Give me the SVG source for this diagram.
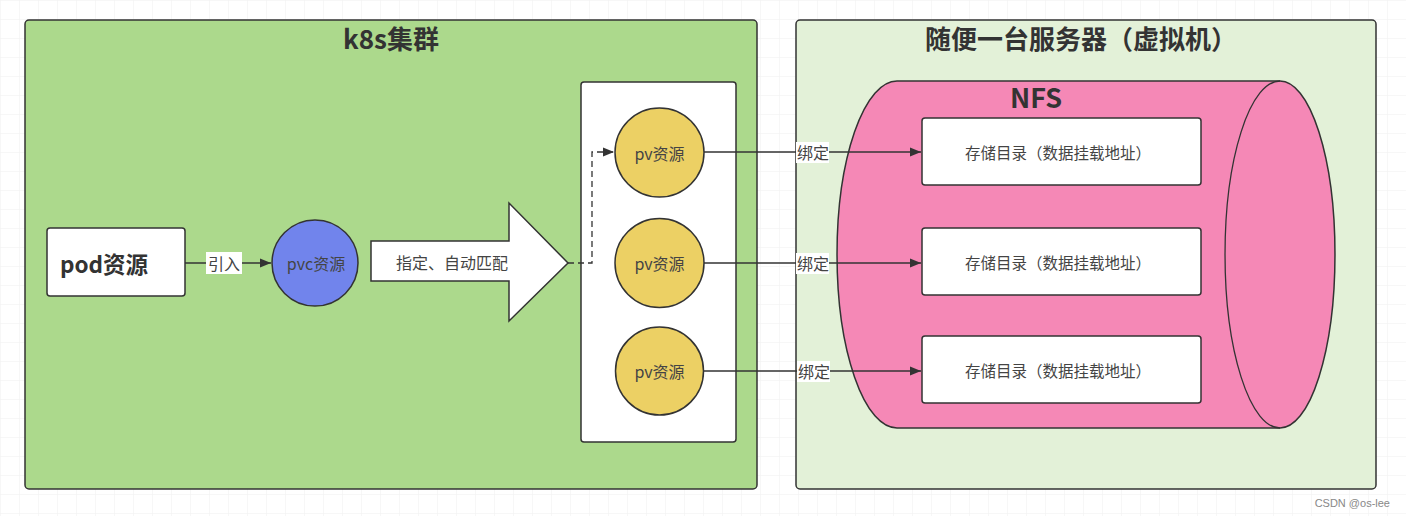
<svg xmlns="http://www.w3.org/2000/svg" width="1406" height="516" viewBox="0 0 1406 516">
<style>
  .zh { font-family: "Noto Sans CJK SC", "Liberation Sans", sans-serif; }
  .title { font-size: 26px; font-weight: bold; fill: #333333; text-anchor: middle; }
  .lbl { font-size: 16px; fill: #444444; text-anchor: middle; dominant-baseline: central; }
  .dir { font-size: 15.5px; fill: #444444; text-anchor: middle; dominant-baseline: central; }
  .edge { stroke: #333333; stroke-width: 1.3; fill: none; }
  .node { stroke: #333333; stroke-width: 1.5; }
  .elab { font-size: 16px; fill: #444444; text-anchor: middle; dominant-baseline: central; }
</style>
<defs>
  <pattern id="grid" width="19" height="19" patternUnits="userSpaceOnUse">
    <path d="M19 0 L0 0 0 19" fill="none" stroke="#efefef" stroke-width="1"/>
  </pattern>
  <marker id="arr" viewBox="0 0 10 10" refX="10" refY="5" markerWidth="11" markerHeight="11" markerUnits="userSpaceOnUse" orient="auto">
    <path d="M0,1 L10,5 L0,9 Z" fill="#333333"/>
  </marker>
</defs>
<rect width="1406" height="516" fill="#ffffff"/>
<rect width="1406" height="516" fill="url(#grid)"/>

<g id="k8s-cluster">
  <rect x="25" y="20" width="732" height="469" rx="4" fill="#acd98c" class="node"/>
  <text x="391" y="49" class="zh title">k8s集群</text>
</g>
<g id="server">
  <rect x="796" y="20" width="580" height="469" rx="4" fill="#e3f1d8" class="node"/>
  <text x="1081" y="49" class="zh title">随便一台服务器（虚拟机）</text>
</g>
<g id="pv-container">
  <rect x="581" y="82" width="155" height="360" rx="3" fill="#ffffff" class="node"/>
</g>
<g id="nfs">
  <path d="M897,81 L1280,81 A55,173.5 0 0 1 1280,428 L897,428 A60,173.5 0 0 1 897,81 Z" fill="#f588b6" class="node"/>
  <path d="M1280,81 A55,173.5 0 0 0 1280,428" class="edge" stroke-width="1.5"/>
  <text x="1036" y="108" class="zh" font-size="27" font-weight="bold" fill="#333333" text-anchor="middle">NFS</text>
</g>

<g id="pod">
  <rect x="47" y="228" width="138" height="68" rx="3" fill="#ffffff" class="node"/>
  <text x="104" y="263" class="zh" font-size="22.5" font-weight="bold" fill="#333333" text-anchor="middle" dominant-baseline="central">pod资源</text>
</g>
<g id="pvc">
  <circle cx="315" cy="263" r="43" fill="#7184ec" class="node"/>
  <text x="316" y="263" class="zh lbl">pvc资源</text>
</g>
<g id="match-arrow">
  <path d="M371,241 L509,241 L509,203 L568,263 L509,321 L509,281 L371,281 Z" fill="#ffffff" class="node"/>
  <text x="452" y="262" class="zh lbl">指定、自动匹配</text>
</g>
<g id="pv1">
  <circle cx="659.5" cy="152.5" r="44.5" fill="#ecd064" class="node"/>
  <text x="659.5" y="152.5" class="zh lbl">pv资源</text>
</g>
<g id="pv2">
  <circle cx="659.5" cy="263" r="44.5" fill="#ecd064" class="node"/>
  <text x="659.5" y="263" class="zh lbl">pv资源</text>
</g>
<g id="pv3">
  <circle cx="659.5" cy="371" r="44" fill="#ecd064" class="node"/>
  <text x="659.5" y="371" class="zh lbl">pv资源</text>
</g>
<g id="dir1">
  <rect x="922" y="118" width="279" height="67" rx="3" fill="#ffffff" class="node"/>
  <text x="1058" y="152" class="zh dir">存储目录（数据挂载地址）</text>
</g>
<g id="dir2">
  <rect x="922" y="228" width="279" height="67" rx="3" fill="#ffffff" class="node"/>
  <text x="1058" y="262" class="zh dir">存储目录（数据挂载地址）</text>
</g>
<g id="dir3">
  <rect x="922" y="336" width="279" height="67" rx="3" fill="#ffffff" class="node"/>
  <text x="1058" y="370" class="zh dir">存储目录（数据挂载地址）</text>
</g>

<g id="connectors">
  <path d="M185,263 L271,263" class="edge" marker-end="url(#arr)"/>
  <rect x="206" y="252" width="36" height="22" fill="#ffffff"/>
  <text x="224" y="263" class="zh elab">引入</text>

  <path d="M568,263 L592,263 L592,152 L614,152" class="edge" stroke-dasharray="6,4" marker-end="url(#arr)"/>

  <path d="M704,152 L921,152" class="edge" marker-end="url(#arr)"/>
  <rect x="796" y="142" width="33" height="21" fill="#ffffff"/>
  <text x="813" y="152" class="zh elab">绑定</text>

  <path d="M704,263 L921,263" class="edge" marker-end="url(#arr)"/>
  <rect x="796" y="253" width="33" height="21" fill="#ffffff"/>
  <text x="813" y="263" class="zh elab">绑定</text>

  <path d="M704,371 L921,371" class="edge" marker-end="url(#arr)"/>
  <rect x="797" y="361" width="33" height="21" fill="#ffffff"/>
  <text x="814" y="371" class="zh elab">绑定</text>
</g>

<text x="1390" y="507" font-family="'Liberation Sans', sans-serif" font-size="11" fill="#888888" text-anchor="end">CSDN @os-lee</text>
</svg>
